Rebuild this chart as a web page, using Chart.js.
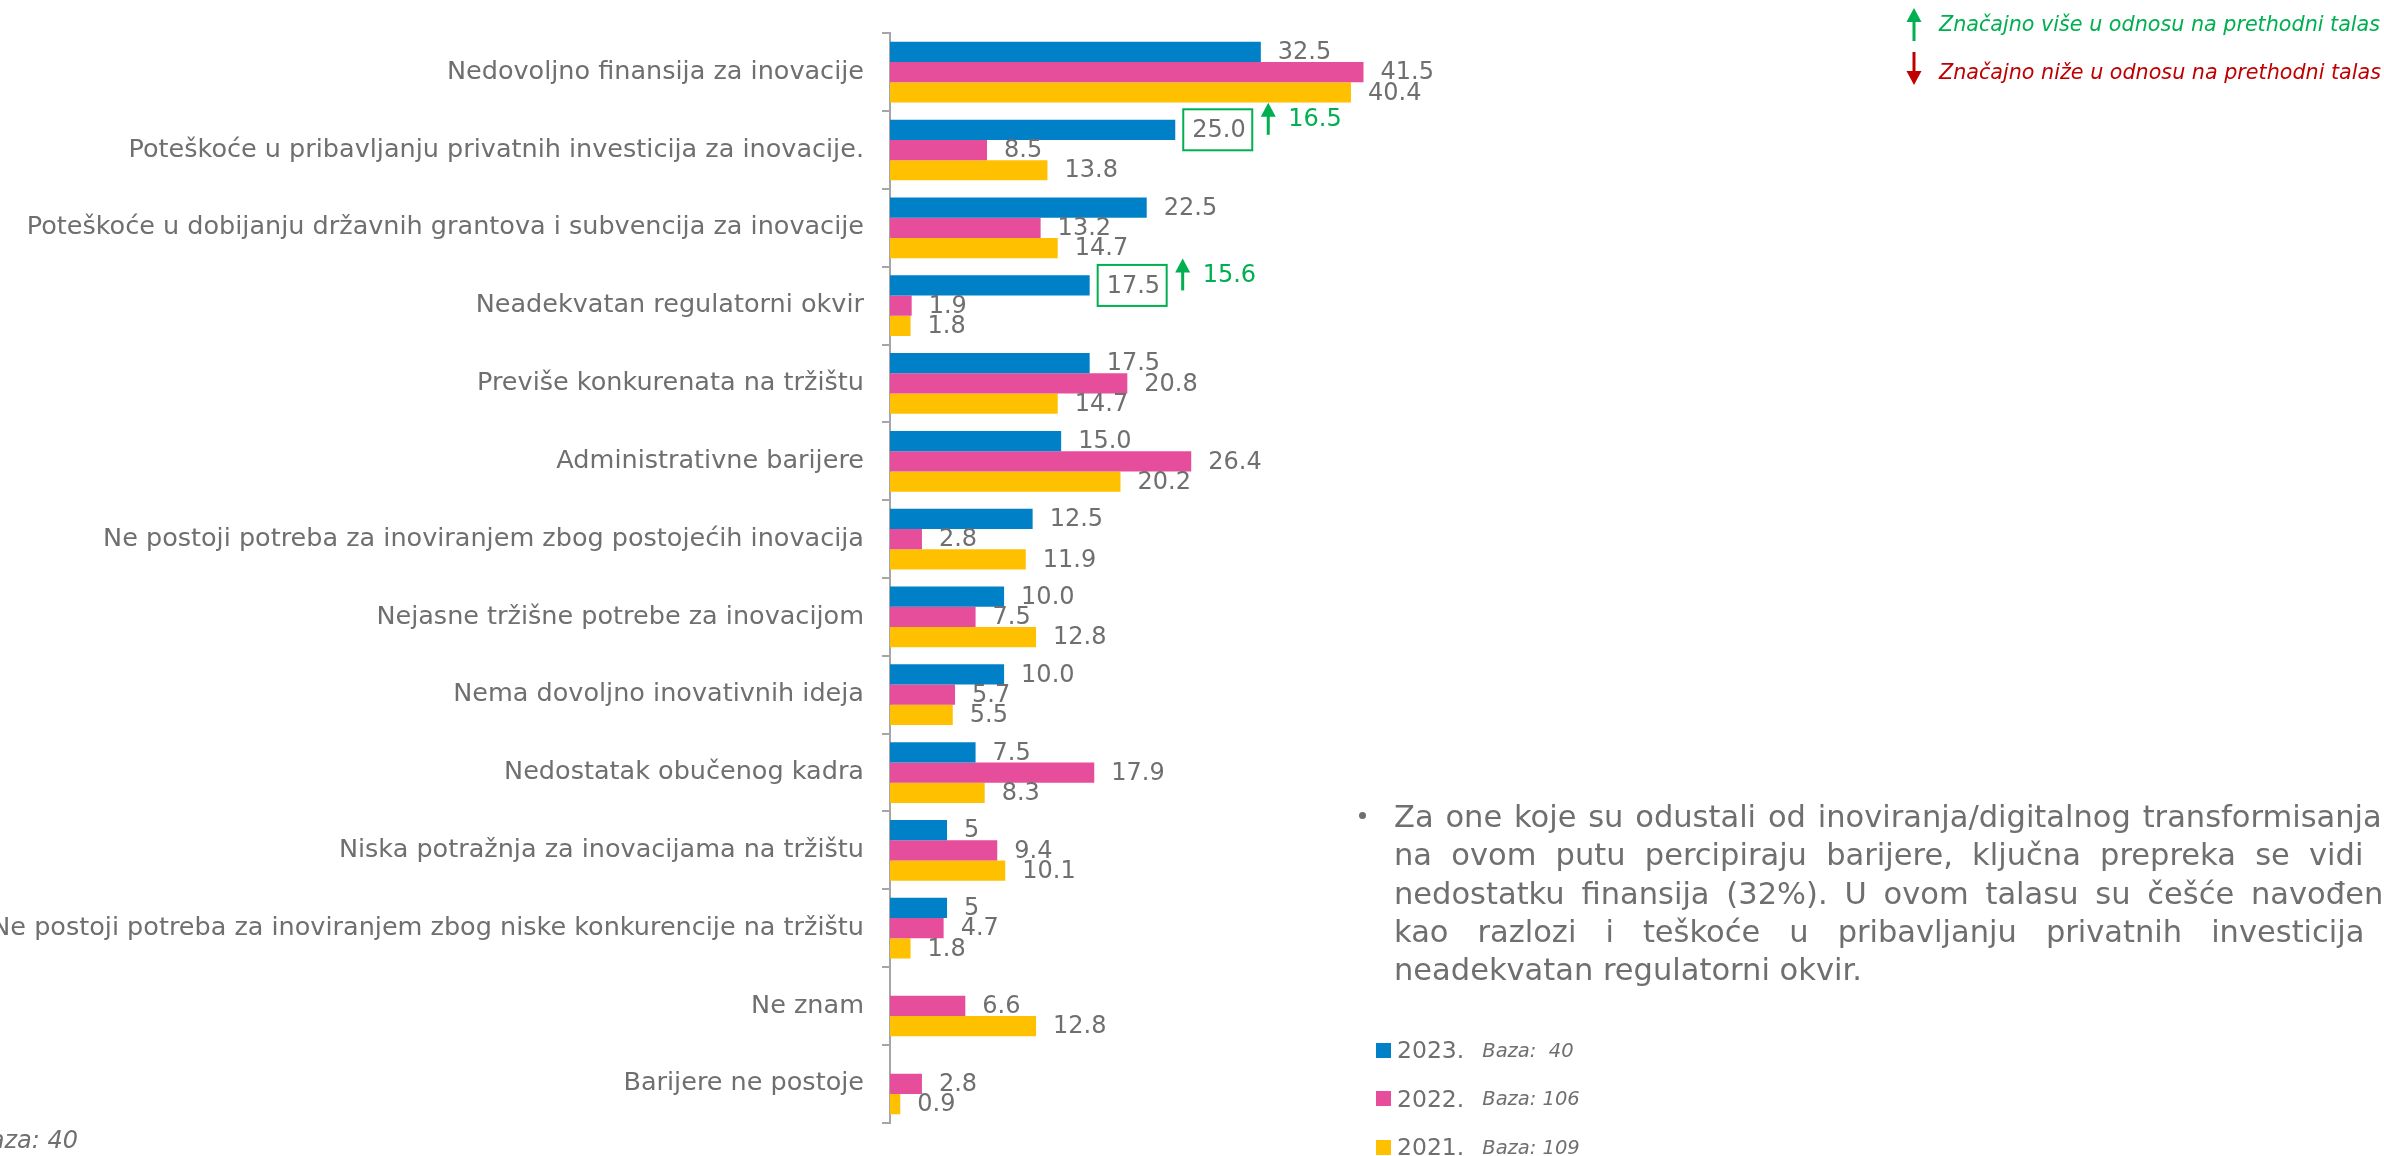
<!DOCTYPE html>
<html lang="sr">
<head>
    <meta charset="UTF-8">
    <title>Barijere za inovacije</title>
    <script src="https://cdn.jsdelivr.net/npm/chart.js"></script>
    <style>
        html, body { margin: 0; padding: 0; }
        body {
            width: 2384px; height: 1156px; overflow: hidden; position: relative;
            background: #fff; font-family: "DejaVu Sans", sans-serif; color: #6f6f6f;
        }
        #chart { position: absolute; left: 0; top: 0; }
        .key { position: absolute; left: 1939px; font-style: italic; font-size: 20.7px; line-height: 30px; white-space: nowrap; }
        .key.up { top: 9px; color: #00b050; }
        .key.down { top: 57px; color: #c00000; }
        .note { position: absolute; top: 1122px; right: calc(2384px - 78px); font-style: italic; font-size: 24px; line-height: 36px; white-space: nowrap; }
        .text { position: absolute; left: 1394px; top: 798px; width: 1008px; font-size: 30.5px; line-height: 38.3px; }
        .text div { text-align: justify; text-align-last: justify; white-space: nowrap; }
        .text div.last { text-align-last: left; }
        .bullet { position: absolute; left: 1359px; top: 812px; width: 7px; height: 7px; border-radius: 50%; background: #6f6f6f; }
        #legend { position: absolute; left: 1376px; top: 1026px; }
        #legend .row { height: 48.5px; display: flex; align-items: center; white-space: nowrap; }
        #legend .box { width: 15px; height: 15px; margin-right: 6px; }
        #legend .year { font-size: 23.5px; }
        #legend .base { font-size: 19.5px; font-style: italic; margin-left: 18px; }
    </style>
</head>
<body>
    <canvas id="chart" width="2384" height="1156"></canvas>

    <!-- oznake znacajnosti -->
    <div class="key up">Značajno više u odnosu na prethodni talas</div>
    <div class="key down">Značajno niže u odnosu na prethodni talas</div>

    <div class="note">Baza: 40</div>

    <div class="bullet"></div>
    <div class="text">
        <div>Za one koje su odustali od inoviranja/digitalnog transformisanja i</div>
        <div>na ovom putu percipiraju barijere, ključna prepreka se vidi u</div>
        <div>nedostatku finansija (32%). U ovom talasu su češće navođene</div>
        <div>kao razlozi i teškoće u pribavljanju privatnih investicija i</div>
        <div class="last">neadekvatan regulatorni okvir.</div>
    </div>

    <div id="legend"></div>

    <script>
        const categories = [
            'Nedovoljno finansija za inovacije',
            'Poteškoće u pribavljanju privatnih investicija za inovacije.',
            'Poteškoće u dobijanju državnih grantova i subvencija za inovacije',
            'Neadekvatan regulatorni okvir',
            'Previše konkurenata na tržištu',
            'Administrativne barijere',
            'Ne postoji potreba za inoviranjem zbog postojećih inovacija',
            'Nejasne tržišne potrebe za inovacijom',
            'Nema dovoljno inovativnih ideja',
            'Nedostatak obučenog kadra',
            'Niska potražnja za inovacijama na tržištu',
            'Ne postoji potreba za inoviranjem zbog niske konkurencije na tržištu',
            'Ne znam',
            'Barijere ne postoje'
        ];
        // 2023 is kept as printed (some labels have no decimal)
        const values2023 = ['32.5', '25.0', '22.5', '17.5', '17.5', '15.0', '12.5', '10.0', '10.0', '7.5', '5', '5', null, null];
        const values2022 = [41.5, 8.5, 13.2, 1.9, 20.8, 26.4, 2.8, 7.5, 5.7, 17.9, 9.4, 4.7, 6.6, 2.8];
        const values2021 = [40.4, 13.8, 14.7, 1.8, 14.7, 20.2, 11.9, 12.8, 5.5, 8.3, 10.1, 1.8, 12.8, 0.9];

        const seriesNames = ['2023.', '2022.', '2021.'];
        const seriesBases = ['Baza:&nbsp; 40', 'Baza: 106', 'Baza: 109'];
        const seriesColors = ['#0080c6', '#e64d9b', '#ffc000'];

        // significant increase vs previous wave (2023 series)
        const upIndex = [1, 3];
        const upDelta = ['16.5', '15.6'];

        const grey = '#6f6f6f';
        const green = '#00b050';
        const fontFamily = '"DejaVu Sans"';

        // legend
        const legend = document.getElementById('legend');
        seriesNames.forEach((name, i) => {
            const row = document.createElement('div');
            row.className = 'row';
            row.innerHTML = `<span class="box" style="background:${seriesColors[i]}"></span>` +
                `<span class="year">${name}</span><span class="base">${seriesBases[i]}</span>`;
            legend.appendChild(row);
        });

        function arrow(ctx, x, top, bottom, color, up) {
            const head = 14, half = 7.5;
            ctx.save();
            ctx.fillStyle = color;
            ctx.strokeStyle = color;
            ctx.lineWidth = 3;
            ctx.beginPath();
            if (up) {
                ctx.moveTo(x, top + head - 1);
                ctx.lineTo(x, bottom);
            } else {
                ctx.moveTo(x, top);
                ctx.lineTo(x, bottom - head + 1);
            }
            ctx.stroke();
            ctx.beginPath();
            if (up) {
                ctx.moveTo(x, top);
                ctx.lineTo(x - half, top + head);
                ctx.lineTo(x + half, top + head);
            } else {
                ctx.moveTo(x, bottom);
                ctx.lineTo(x - half, bottom - head);
                ctx.lineTo(x + half, bottom - head);
            }
            ctx.closePath();
            ctx.fill();
            ctx.restore();
        }

        const valueLabels = {
            id: 'valueLabels',
            afterDatasetsDraw(chart) {
                const ctx = chart.ctx;
                ctx.save();
                ctx.font = '24px ' + fontFamily;
                ctx.fillStyle = grey;
                ctx.textAlign = 'left';
                ctx.textBaseline = 'middle';
                chart.data.datasets.forEach((ds, i) => {
                    chart.getDatasetMeta(i).data.forEach((bar, j) => {
                        const v = ds.data[j];
                        if (v === null || v === undefined) return;
                        const txt = typeof v === 'string' ? v : v.toFixed(1);
                        ctx.fillText(txt, bar.x + 17, bar.y + 1);
                    });
                });

                // boxes and arrows for significant changes
                const meta = chart.getDatasetMeta(0);
                upIndex.forEach((idx, k) => {
                    const bar = meta.data[idx];
                    ctx.strokeStyle = green;
                    ctx.lineWidth = 2;
                    ctx.strokeRect(bar.x + 8, bar.y - 20.5, 69, 41);
                    arrow(ctx, bar.x + 93, bar.y - 27, bar.y + 5, green, true);
                    ctx.fillStyle = green;
                    ctx.fillText(upDelta[k], bar.x + 113, bar.y - 10);
                });
                ctx.restore();

                // key arrows top right
                arrow(ctx, 1914, 8, 41, green, true);
                arrow(ctx, 1914, 52, 85, '#c00000', false);
            }
        };

        const ctx = document.getElementById('chart').getContext('2d');
        new Chart(ctx, {
            type: 'bar',
            data: {
                labels: categories,
                datasets: seriesNames.map((name, i) => ({
                    label: name,
                    data: [values2023, values2022, values2021][i],
                    backgroundColor: seriesColors[i],
                    borderWidth: 0,
                    categoryPercentage: 0.78,
                    barPercentage: 1.0
                }))
            },
            options: {
                indexAxis: 'y',
                responsive: false,
                animation: false,
                layout: { padding: { top: 24, bottom: 20, left: 0, right: 2384 - 1460.5 } },
                plugins: {
                    legend: { display: false },
                    tooltip: { enabled: false }
                },
                scales: {
                    x: { display: false, min: 0, max: 50 },
                    y: {
                        afterFit: (scale) => { scale.width = 890; },
                        ticks: {
                            autoSkip: false,
                            color: grey,
                            padding: 18,
                            font: { family: fontFamily, size: 25.5 }
                        },
                        grid: {
                            offset: true,
                            drawOnChartArea: false,
                            tickLength: 8,
                            color: '#a6a6a6',
                            lineWidth: 2
                        },
                        border: { color: '#a6a6a6', width: 2 }
                    }
                }
            },
            plugins: [valueLabels]
        });
    </script>
</body>
</html>
